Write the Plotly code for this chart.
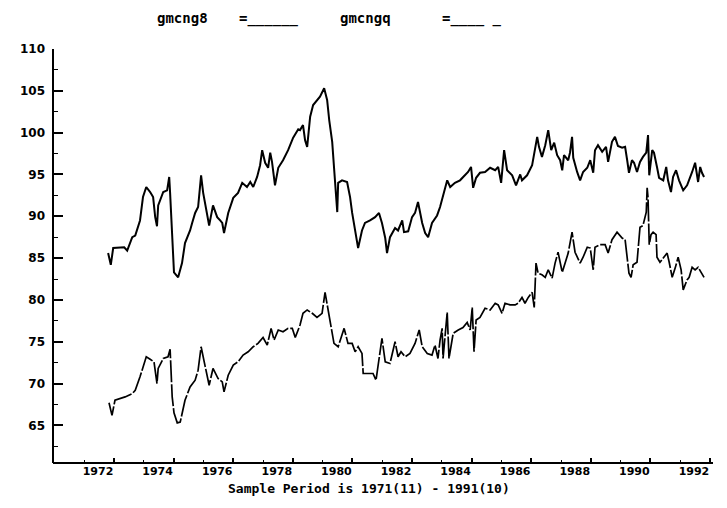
import plotly.graph_objects as go

# ---- data (decimal year, index value) ----
gmcng8_t = [1971.80, 1971.89, 1971.97, 1972.34, 1972.44, 1972.61, 1972.71, 1972.87, 1972.97, 1973.08,
            1973.21, 1973.31, 1973.38, 1973.44, 1973.48, 1973.65, 1973.78, 1973.85, 1973.88, 1973.95,
            1974.01, 1974.15, 1974.28, 1974.38, 1974.55, 1974.62, 1974.72, 1974.82, 1974.89, 1974.92,
            1974.99, 1975.09, 1975.19, 1975.32, 1975.46, 1975.56, 1975.63, 1975.69, 1975.83, 1976.00,
            1976.16, 1976.30, 1976.46, 1976.57, 1976.67, 1976.80, 1976.90, 1976.97, 1977.07, 1977.17,
            1977.24, 1977.30, 1977.40, 1977.51, 1977.67, 1977.84, 1978.01, 1978.18, 1978.24, 1978.34,
            1978.41, 1978.48, 1978.58, 1978.68, 1978.81, 1978.91, 1979.05, 1979.15, 1979.22, 1979.32,
            1979.38, 1979.45, 1979.49, 1979.52, 1979.65, 1979.82, 1979.92, 1979.99, 1980.09, 1980.19,
            1980.32, 1980.42, 1980.59, 1980.76, 1980.89, 1980.99, 1981.10, 1981.16, 1981.26, 1981.43,
            1981.53, 1981.67, 1981.73, 1981.87, 1982.00, 1982.10, 1982.20, 1982.34, 1982.44, 1982.54,
            1982.67, 1982.84, 1982.94, 1983.04, 1983.18, 1983.28, 1983.44, 1983.61, 1983.78, 1983.88,
            1983.98, 1984.05, 1984.15, 1984.28, 1984.45, 1984.62, 1984.79, 1984.89, 1984.99, 1985.09,
            1985.19, 1985.36, 1985.49, 1985.63, 1985.69, 1985.86, 1986.03, 1986.10, 1986.20, 1986.26,
            1986.36, 1986.47, 1986.57, 1986.67, 1986.77, 1986.87, 1986.97, 1987.04, 1987.10, 1987.24,
            1987.30, 1987.37, 1987.41, 1987.54, 1987.64, 1987.74, 1987.88, 1987.98, 1988.08, 1988.14,
            1988.24, 1988.38, 1988.51, 1988.58, 1988.71, 1988.81, 1988.91, 1989.05, 1989.15, 1989.22,
            1989.28, 1989.38, 1989.45, 1989.55, 1989.65, 1989.75, 1989.86, 1989.92, 1989.96, 1990.06,
            1990.12, 1990.22, 1990.29, 1990.43, 1990.53, 1990.59, 1990.69, 1990.76, 1990.86, 1990.96,
            1991.10, 1991.23, 1991.33, 1991.40, 1991.50, 1991.60, 1991.67, 1991.73, 1991.80]
gmcng8_v = [85.6, 84.2, 86.2, 86.3, 85.9, 87.5, 87.7, 89.5, 92.3, 93.5,
            92.9, 92.3, 89.9, 88.8, 91.3, 92.9, 93.1, 94.7, 92.8, 87.4,
            83.3, 82.7, 84.4, 86.8, 88.3, 89.2, 90.4, 91.1, 93.5, 94.9,
            92.8, 90.7, 88.9, 91.3, 89.9, 89.5, 89.2, 88.0, 90.4, 92.2,
            92.8, 94.0, 93.5, 94.1, 93.5, 94.7, 96.1, 97.9, 96.4, 95.8,
            97.6, 96.5, 93.7, 95.8, 96.7, 97.9, 99.4, 100.4, 100.3, 100.9,
            99.1, 98.3, 101.9, 103.3, 103.9, 104.3, 105.3, 103.9, 101.5, 98.9,
            95.9, 92.8, 90.5, 94.0, 94.3, 94.1, 92.3, 90.4, 88.3, 86.2,
            88.3, 89.2, 89.5, 89.9, 90.4, 89.2, 87.4, 85.6, 87.5, 88.6,
            88.3, 89.5, 88.1, 88.2, 89.9, 90.4, 91.7, 89.2, 88.0, 87.5,
            89.2, 90.1, 91.1, 92.5, 94.3, 93.5, 94.0, 94.3, 94.9, 95.3,
            95.9, 93.4, 94.6, 95.2, 95.3, 95.8, 95.5, 95.9, 94.0, 97.9,
            95.5, 94.9, 93.7, 95.0, 94.3, 94.9, 96.1, 97.7, 99.5, 98.3,
            97.1, 98.5, 100.3, 97.9, 98.8, 97.3, 96.7, 95.5, 97.3, 96.7,
            97.6, 99.5, 97.0, 95.3, 94.3, 95.3, 95.8, 96.7, 95.2, 97.9,
            98.5, 97.7, 98.3, 96.5, 98.9, 99.5, 98.4, 98.2, 98.3, 96.7,
            95.2, 96.7, 96.4, 95.3, 96.5, 97.1, 97.6, 99.7, 94.9, 97.9,
            97.6, 95.9, 94.6, 94.3, 95.9, 94.3, 92.9, 94.7, 95.5, 94.3,
            93.1, 93.7, 94.6, 95.3, 96.4, 94.1, 95.9, 95.2, 94.7]

gmcngq_t = [1971.83, 1971.93, 1972.03, 1972.37, 1972.61, 1972.71, 1972.87, 1973.08, 1973.21, 1973.34,
            1973.44, 1973.48, 1973.65, 1973.81, 1973.88, 1973.95, 1974.01, 1974.12, 1974.22, 1974.38,
            1974.55, 1974.72, 1974.82, 1974.92, 1975.06, 1975.19, 1975.32, 1975.49, 1975.63, 1975.69,
            1975.83, 1976.00, 1976.16, 1976.33, 1976.50, 1976.67, 1976.83, 1977.00, 1977.14, 1977.27,
            1977.37, 1977.51, 1977.67, 1977.84, 1977.98, 1978.08, 1978.24, 1978.34, 1978.48, 1978.65,
            1978.81, 1978.98, 1979.08, 1979.18, 1979.28, 1979.38, 1979.52, 1979.65, 1979.72, 1979.85,
            1979.99, 1980.09, 1980.19, 1980.32, 1980.36, 1980.49, 1980.69, 1980.79, 1980.93, 1980.99,
            1981.10, 1981.26, 1981.43, 1981.53, 1981.63, 1981.77, 1981.93, 1982.10, 1982.24, 1982.34,
            1982.51, 1982.67, 1982.77, 1982.87, 1982.94, 1983.01, 1983.04, 1983.11, 1983.18, 1983.24,
            1983.38, 1983.55, 1983.71, 1983.85, 1983.95, 1984.02, 1984.08, 1984.15, 1984.28, 1984.45,
            1984.62, 1984.79, 1984.89, 1985.02, 1985.12, 1985.29, 1985.46, 1985.56, 1985.69, 1985.79,
            1985.90, 1986.03, 1986.10, 1986.16, 1986.23, 1986.36, 1986.47, 1986.57, 1986.70, 1986.80,
            1986.90, 1987.04, 1987.14, 1987.24, 1987.37, 1987.47, 1987.64, 1987.74, 1987.88, 1987.98,
            1988.08, 1988.14, 1988.31, 1988.48, 1988.58, 1988.71, 1988.88, 1989.05, 1989.15, 1989.22,
            1989.28, 1989.35, 1989.42, 1989.55, 1989.59, 1989.65, 1989.75, 1989.86, 1989.89, 1989.92,
            1989.96, 1990.02, 1990.09, 1990.19, 1990.22, 1990.32, 1990.43, 1990.56, 1990.63, 1990.73,
            1990.83, 1990.93, 1991.03, 1991.10, 1991.23, 1991.30, 1991.40, 1991.50, 1991.60, 1991.70,
            1991.80]
gmcngq_v = [67.7, 66.2, 68.0, 68.4, 68.8, 69.2, 70.8, 73.2, 72.9, 72.6,
            70.0, 71.8, 73.0, 73.2, 74.1, 68.4, 66.5, 65.3, 65.4, 68.0,
            69.6, 70.4, 71.6, 74.4, 72.0, 69.8, 71.8, 70.6, 70.2, 69.0,
            71.0, 72.2, 72.6, 73.4, 73.8, 74.4, 74.8, 75.5, 74.6, 76.6,
            75.2, 76.4, 76.2, 76.6, 76.6, 75.5, 77.0, 78.4, 78.8, 78.4,
            77.9, 78.4, 80.9, 78.8, 76.7, 74.8, 74.4, 76.0, 76.6, 74.8,
            74.8, 73.8, 74.4, 73.6, 71.2, 71.2, 71.2, 70.4, 73.6, 75.4,
            72.6, 72.4, 75.0, 73.2, 73.8, 73.2, 73.6, 74.8, 76.4, 74.4,
            73.6, 73.4, 74.6, 73.0, 75.2, 76.6, 73.0, 76.0, 78.5, 73.0,
            76.0, 76.4, 76.7, 77.3, 76.4, 79.1, 73.8, 77.6, 77.9, 79.0,
            78.8, 79.6, 79.4, 78.4, 79.6, 79.4, 79.4, 79.6, 80.3, 79.6,
            80.3, 80.9, 79.1, 84.4, 83.2, 83.0, 82.7, 83.6, 82.6, 84.4,
            85.7, 83.3, 84.5, 85.6, 88.1, 85.7, 84.4, 85.1, 86.3, 86.2,
            83.6, 86.3, 86.6, 86.6, 85.6, 87.2, 88.1, 87.4, 87.2, 85.1,
            83.2, 82.7, 84.2, 84.5, 86.3, 88.7, 88.9, 90.5, 93.4, 92.2,
            86.6, 87.8, 88.1, 87.8, 85.1, 84.5, 85.0, 85.6, 84.5, 82.7,
            83.8, 85.1, 83.6, 81.2, 82.4, 82.7, 83.9, 83.6, 83.9, 83.3,
            82.7]

year_ticks = [1972, 1974, 1976, 1978, 1980, 1982, 1984, 1986, 1988, 1990, 1992]
year_labels = ["1972", "1974", "1976", "1978", "1980", "1982", "1984", "1986", "1988", "1990", "1992"]
value_ticks = [65, 70, 75, 80, 85, 90, 95, 100, 105, 110]
value_labels = ["65", "70", "75", "80", "85", "90", "95", "100", "105", "110"]

series_names = ["gmcng8", "gmcngq"]
legend_keys = ["=______", "=____ _"]
footer = "Sample Period is 1971(11) - 1991(10)"

fig = go.Figure()
fig.add_trace(go.Scatter(x=gmcng8_t, y=gmcng8_v, mode="lines", name=series_names[0],
                         line=dict(color="black", width=2)))
fig.add_trace(go.Scatter(x=gmcngq_t, y=gmcngq_v, mode="lines", name=series_names[1],
                         line=dict(color="black", width=1.7, dash="22px,2px")))

tickfont_x = dict(family="DejaVu Sans", size=11, color="black", weight="bold")
tickfont_y = dict(family="DejaVu Sans", size=12, color="black", weight="bold")

fig.update_xaxes(
    range=[1969.95, 1992.1], showgrid=False, zeroline=False, automargin=False,
    showline=False,
    tickmode="array", tickvals=year_ticks, ticktext=year_labels,
    ticks="inside", ticklen=5, tickwidth=1.5, tickcolor="black",
    ticklabelposition="outside left", tickfont=tickfont_x,
    minor=dict(tickmode="linear", tick0=1971, dtick=2, ticks="inside", ticklen=3,
               tickwidth=1.2, tickcolor="black", showgrid=False),
)
fig.update_yaxes(
    range=[60.5, 110], showgrid=False, zeroline=False, automargin=False,
    showline=False,
    tickmode="array", tickvals=value_ticks, ticktext=value_labels,
    ticks="inside", ticklen=10, tickwidth=1.5, tickcolor="black",
    tickfont=tickfont_y, ticklabelstandoff=7,
    minor=dict(tickmode="linear", tick0=62.5, dtick=5, ticks="inside", ticklen=5,
               tickwidth=1.2, tickcolor="black", showgrid=False),
)

# axis frame lines (left and bottom), drawn in paper space
fig.add_shape(type="line", xref="paper", yref="paper", x0=0, x1=1, y0=0, y1=0,
              line=dict(color="black", width=2), layer="above")
fig.add_shape(type="line", xref="paper", yref="paper", x0=0, x1=0, y0=0, y1=1,
              line=dict(color="black", width=2), layer="above")

namefont = dict(family="DejaVu Sans Mono", size=14, color="black", weight="bold")
keyfont = dict(family="DejaVu Sans Mono", size=14, color="black", weight="bold")
ann = [
    dict(text=series_names[0], x=0.1545, xanchor="left", font=namefont),
    dict(text=legend_keys[0], x=0.2788, xanchor="left", font=keyfont),
    dict(text=series_names[1], x=0.4318, xanchor="left", font=namefont),
    dict(text=legend_keys[1], x=0.5864, xanchor="left", font=keyfont),
]
for a in ann:
    fig.add_annotation(xref="paper", yref="paper", y=1.0985, yanchor="top",
                       showarrow=False, **a)
fig.add_annotation(text=footer, xref="paper", yref="paper", x=0.4788, y=-0.0604,
                   xanchor="center", yanchor="middle", showarrow=False,
                   font=dict(family="DejaVu Sans Mono", size=13, color="black", weight="bold"))

# the page body has an 8px default margin, so the figure is sized to fill the rest of the window
fig.update_layout(
    width=719, height=500, showlegend=False,
    margin=dict(l=45, r=14, t=41, b=45, pad=0, autoexpand=False),
    paper_bgcolor="white", plot_bgcolor="white",
)
fig.write_html("out.html")
